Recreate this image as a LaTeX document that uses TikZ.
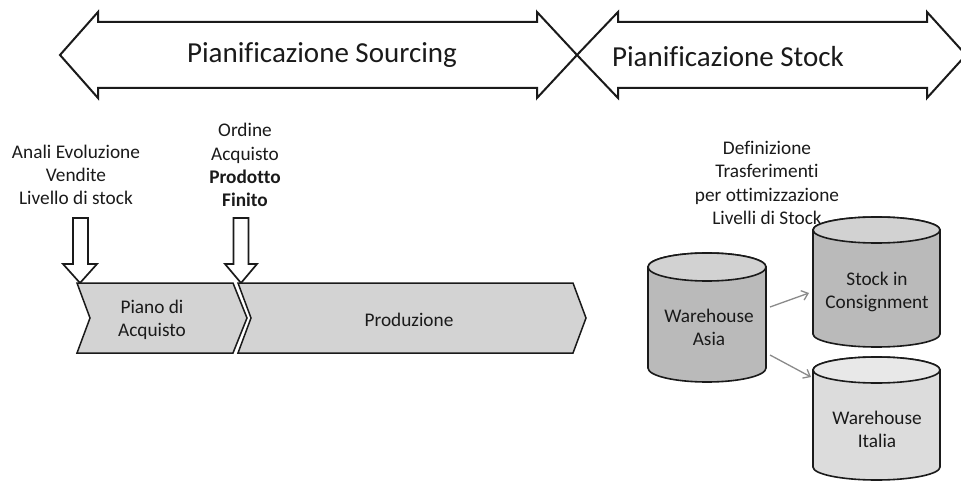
\documentclass[tikz,border=0pt]{standalone}
\usepackage{fontspec}
\setmainfont[Ligatures={NoCommon}]{Carlito}
\usetikzlibrary{arrows.meta}
\definecolor{ink}{HTML}{1A1A1A}
\definecolor{chev}{HTML}{D3D3D3}
\definecolor{drumdark}{HTML}{BABABA}
\definecolor{drumdarktop}{HTML}{D2D2D2}
\definecolor{drumlight}{HTML}{DCDCDC}
\definecolor{drumlighttop}{HTML}{E8E8E8}
\definecolor{flowgray}{HTML}{8A8A8A}
% cylinder: centre x, top-ellipse y, bottom-ellipse y, x radius, y radius, body fill, top fill
\newcommand\drumcyl[7]{%
  \path[fill=#6,draw=ink,line width=1.6pt]
    (#1-#4,#2) -- (#1-#4,#3)
    arc[start angle=180,end angle=0,x radius=#4,y radius=#5]
    -- (#1+#4,#2)
    arc[start angle=0,end angle=-180,x radius=#4,y radius=#5] -- cycle;
  \path[fill=#7,draw=ink,line width=1.6pt] (#1,#2) ellipse[x radius=#4,y radius=#5];}
\begin{document}
\begin{tikzpicture}[x=1pt,y=-1pt,
  title/.style={font=\fontsize{29}{34}\selectfont,text=ink,inner sep=0pt},
  lbl/.style={font=\fontsize{19.3}{23.2}\selectfont,text=ink,align=center,inner sep=0pt},
  bandarrow/.style={fill=white,draw=ink,line width=2pt,line join=miter},
  droparrow/.style={fill=white,draw=ink,line width=1.7pt,line join=miter},
  chevron/.style={fill=chev,draw=ink,line width=1.5pt,line join=miter},
  flow/.style={draw=flowgray,line width=1.3pt,-{Straight Barb[length=6pt,width=10pt]}}]
\useasboundingbox (0,0) rectangle (961,481);

% phase bands
\draw[bandarrow] (60,55) -- (98,12) -- (98,22) -- (537,22) -- (537,12) -- (577,55)
  -- (537,98) -- (537,88) -- (98,88) -- (98,98) -- cycle;
\draw[bandarrow] (577,55) -- (618,12) -- (618,22) -- (927,22) -- (927,12) -- (966,55)
  -- (927,98) -- (927,88) -- (618,88) -- (618,98) -- cycle;
\node[title] (sourcing) at (322,55) {Pianificazione Sourcing};
\node[title] (stock) at (728,57) {Pianificazione Stock};

% inputs
\node[lbl] (analisi) at (76,175) {Anali Evoluzione\\Vendite\\Livello di stock};
\node[lbl] (ordine) at (245,165) {Ordine\\Acquisto\\\textbf{Prodotto}\\\textbf{Finito}};
\draw[droparrow] (73,218) -- (88,218) -- (88,264) -- (97,264) -- (80,283) -- (63,264)
  -- (73,264) -- cycle;
\draw[droparrow] (233.5,218) -- (248.5,218) -- (248.5,264) -- (257,264) -- (241,283)
  -- (225,264) -- (233.5,264) -- cycle;

% process chevrons
\draw[chevron] (77,283) -- (233,283) -- (247,318) -- (233,353) -- (77,353) -- (90,318) -- cycle;
\draw[chevron] (238,283) -- (573,283) -- (586,318) -- (573,353) -- (238,353) -- (251,318) -- cycle;
\node[lbl] (piano) at (152,320) {Piano di\\Acquisto};
\node[lbl] (produzione) at (409,320) {Produzione};

% stock transfers
\node[lbl] (definizione) at (767,183) {Definizione\\Trasferimenti\\per ottimizzazione\\Livelli di Stock};
\drumcyl{707}{267}{368}{59}{14}{drumdark}{drumdarktop}
\drumcyl{876.5}{230}{334}{63.5}{13}{drumdark}{drumdarktop}
\drumcyl{876.5}{370}{467}{63.5}{13}{drumlight}{drumlighttop}
\node[lbl] (asia) at (709,327) {Warehouse\\Asia};
\node[lbl] (consignment) at (877,292) {Stock in\\Consignment};
\node[lbl] (italia) at (877,429) {Warehouse\\Italia};
\coordinate (asiaUp) at (770,307);
\coordinate (asiaDown) at (770,355);
\coordinate (consIn) at (809,293);
\coordinate (italIn) at (811,377);
\draw[flow] (asiaUp) -- (consIn);
\draw[flow] (asiaDown) -- (italIn);
\end{tikzpicture}
\end{document}
